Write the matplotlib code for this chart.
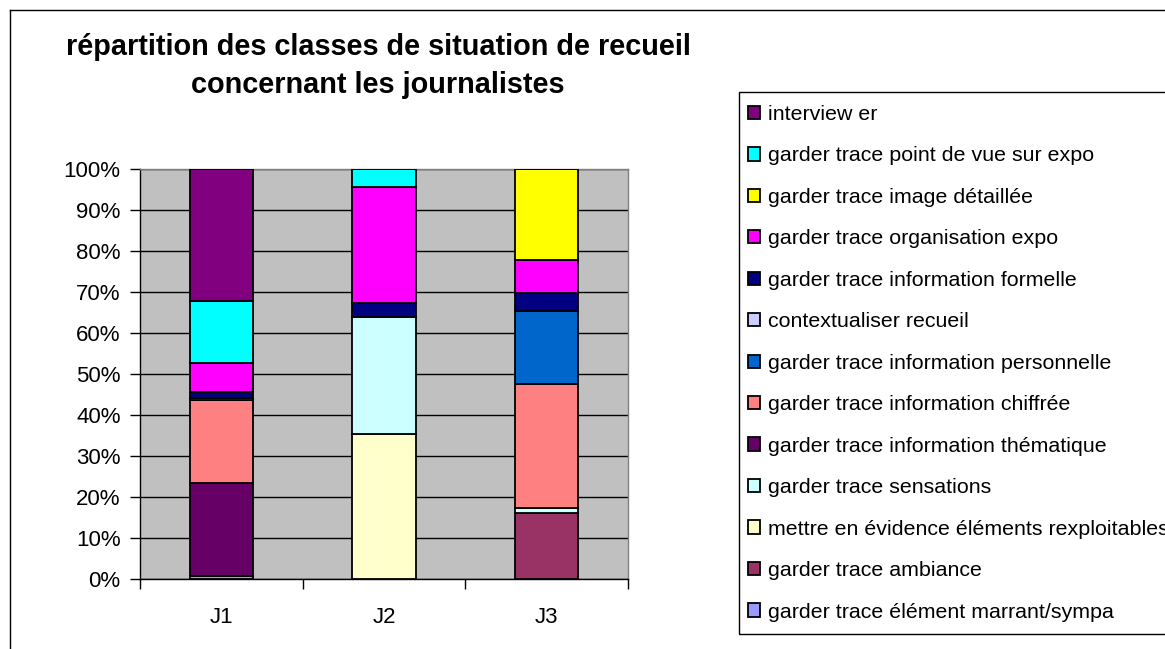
import matplotlib
matplotlib.use("Agg")
import matplotlib.pyplot as plt
import numpy as np
from matplotlib.patches import Rectangle
from matplotlib.lines import Line2D

plt.rcParams['font.family'] = ['Liberation Sans', 'DejaVu Sans']

# Categories (journalists)
categories = ['J1', 'J2', 'J3']

# Series in stacking order (bottom to top), share of each class in %
series_labels = [
    'garder trace élément marrant/sympa',
    'garder trace ambiance',
    'mettre en évidence éléments rexploitables',
    'garder trace sensations',
    'garder trace information thématique',
    'garder trace information chiffrée',
    'garder trace information personnelle',
    'contextualiser recueil',
    'garder trace information formelle',
    'garder trace organisation expo',
    'garder trace image détaillée',
    'garder trace point de vue sur expo',
    'interview er',
]

marrant_sympa = [0.8, 0.0, 0.0]
ambiance = [0.0, 0.0, 16.2]
elements_rexploitables = [0.0, 35.3, 0.0]
sensations = [0.0, 28.7, 1.1]
info_thematique = [22.7, 0.0, 0.0]
info_chiffree = [20.2, 0.0, 30.1]
info_personnelle = [0.0, 0.0, 18.0]
contextualiser = [0.4, 0.0, 0.0]
info_formelle = [1.6, 3.4, 4.2]
organisation_expo = [7.1, 28.3, 8.1]
image_detaillee = [0.0, 0.0, 22.2]
point_de_vue = [15.0, 4.3, 0.0]
interviewer = [32.2, 0.0, 0.0]

series_values = [
    marrant_sympa, ambiance, elements_rexploitables, sensations,
    info_thematique, info_chiffree, info_personnelle, contextualiser,
    info_formelle, organisation_expo, image_detaillee, point_de_vue,
    interviewer,
]

series_colors = [
    '#9999FF', '#993366', '#FFFFCC', '#CCFFFF', '#660066', '#FF8080',
    '#0066CC', '#CCCCFF', '#000080', '#FF00FF', '#FFFF00', '#00FFFF',
    '#800080',
]

W, H = 1165, 649
fig = plt.figure(figsize=(W / 100, H / 100), dpi=100)
fig.patch.set_facecolor('white')


def px_x(x):
    return x / W


def px_y(y):
    return 1 - y / H


# Plot area
ax = fig.add_axes([px_x(140), px_y(579), px_x(628) - px_x(140), px_y(169) - px_y(579)])
ax.set_facecolor('#C0C0C0')

vals = np.array(series_values, dtype=float)
pct = vals / vals.sum(axis=0) * 100.0

x = np.arange(1, len(categories) + 1)
bottom = np.zeros(len(categories))
handles = []
for label, row, color in zip(series_labels, pct, series_colors):
    ax.bar(x, row, width=0.39, bottom=bottom, color=color,
           edgecolor='black', linewidth=1.3, label=label, zorder=3)
    bottom += row
    handles.append(Rectangle((0, 0), 1, 1, facecolor=color,
                             edgecolor='black', linewidth=1.3))

ax.set_xlim(0.5, len(categories) + 0.5)
ax.set_ylim(0, 100)

# y axis: percentages with black gridlines
ax.set_yticks(np.arange(0, 101, 10))
ax.set_yticklabels([f'{v}%' for v in range(0, 101, 10)])
ax.yaxis.grid(True, color='black', linewidth=1.0, zorder=1)
ax.set_axisbelow(True)
ax.tick_params(axis='y', direction='out', length=7, width=1.0,
               color='black', labelsize=16, pad=7)

# x axis: ticks between categories, labels centred under bars
ax.set_xticks(np.arange(0.5, len(categories) + 1, 1.0))
ax.set_xticklabels([])
ax.set_xticks(x, minor=True)
ax.set_xticklabels(categories, minor=True)
ax.tick_params(axis='x', which='major', direction='out', length=7,
               width=1.0, color='black')
ax.tick_params(axis='x', which='minor', length=0, labelsize=16, pad=20)

for side in ('left', 'bottom'):
    ax.spines[side].set_color('black')
    ax.spines[side].set_linewidth(1.0)
for side in ('top', 'right'):
    ax.spines[side].set_color('#808080')
    ax.spines[side].set_linewidth(1.0)

# Title
fig.text(px_x(378), px_y(55), 'répartition des classes de situation de recueil',
         ha='center', va='baseline', fontsize=20.8, fontweight='bold')
fig.text(px_x(378), px_y(93), 'concernant les journalistes',
         ha='center', va='baseline', fontsize=20.8, fontweight='bold')

# Legend (reverse order, top series first)
fig.legend(handles[::-1], series_labels[::-1], loc='upper left',
           bbox_to_anchor=(px_x(748), px_y(105)), frameon=False,
           fontsize=15.4, handlelength=0.58, handleheight=0.58,
           handletextpad=0.35, labelspacing=1.05, borderpad=0,
           borderaxespad=0)

# Legend frame and chart frame
fig.add_artist(Rectangle((px_x(739), px_y(634)), px_x(1200) - px_x(739),
                         px_y(91.5) - px_y(634), transform=fig.transFigure,
                         fill=False, edgecolor='black', linewidth=1.0,
                         clip_on=False))
fig.add_artist(Line2D([px_x(10), px_x(10)], [px_y(10), px_y(H + 5)],
                      transform=fig.transFigure, color='black', linewidth=1.0))
fig.add_artist(Line2D([px_x(10), px_x(W + 5)], [px_y(10), px_y(10)],
                      transform=fig.transFigure, color='black', linewidth=1.0))

fig.savefig('out.png', dpi=100)
